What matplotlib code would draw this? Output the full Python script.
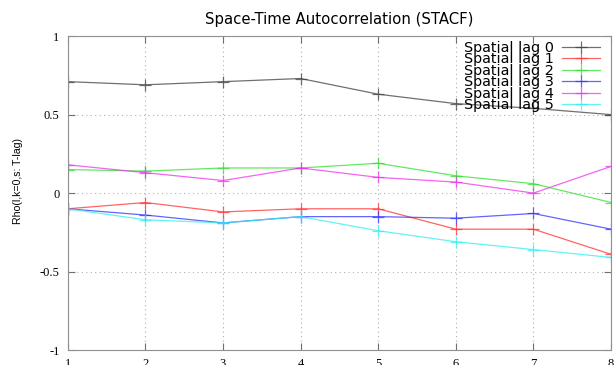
import matplotlib

matplotlib.use("Agg")
import matplotlib.pyplot as plt

time_lags = [1, 2, 3, 4, 5, 6, 7, 8]
lag0 = [0.71, 0.69, 0.71, 0.73, 0.63, 0.57, 0.54, 0.50]
lag1 = [-0.10, -0.06, -0.12, -0.10, -0.10, -0.23, -0.23, -0.39]
lag2 = [0.15, 0.14, 0.16, 0.16, 0.19, 0.11, 0.06, -0.06]
lag3 = [-0.10, -0.14, -0.19, -0.15, -0.15, -0.16, -0.13, -0.23]
lag4 = [0.18, 0.13, 0.08, 0.16, 0.10, 0.07, 0.00, 0.17]
lag5 = [-0.10, -0.17, -0.19, -0.15, -0.24, -0.31, -0.36, -0.41]

series = [lag0, lag1, lag2, lag3, lag4, lag5]
labels = ["Spatial lag %d" % i for i in range(6)]
colors = ["#404040", "#ff3030", "#30e030", "#3030ff", "#f030f0", "#30f0f0"]
y_ticks = [-1, -0.5, 0, 0.5, 1]
y_tick_labels = ["-1", "-0.5", "0", "0.5", "1"]


def main() -> None:
    fig = plt.figure(figsize=(6.16, 3.65), dpi=100)
    ax = fig.add_axes([0.110, 0.041, 0.882, 0.860])

    for vals, lab, col in zip(series, labels, colors):
        ax.plot(time_lags, vals, color=col, lw=0.9, alpha=0.75,
                marker="+", ms=8.5, mew=0.9, label=lab)

    ax.set_xlim(1, 8)
    ax.set_ylim(-1, 1)
    ax.set_xticks(time_lags)
    ax.set_yticks(y_ticks)
    ax.set_yticklabels(y_tick_labels)
    ax.grid(True, linestyle=(0, (1, 3)), color="#b0b0b0", lw=0.8)
    ax.tick_params(direction="in", top=True, right=True, length=5,
                   color="#707070", labelsize=8, pad=6)
    for lab in ax.get_xticklabels() + ax.get_yticklabels():
        lab.set_family("Liberation Serif")
        lab.set_fontsize(9)
    for sp in ax.spines.values():
        sp.set_color("#909090")

    ax.set_title("Space-Time Autocorrelation (STACF)", fontsize=10.7,
                 family="DejaVu Sans", pad=9)
    ax.set_ylabel("Rho(l,k=0,s: T-lag)", fontsize=7.6, family="Liberation Sans")
    ax.yaxis.set_label_coords(-0.083, 0.54)

    leg = ax.legend(loc="upper right", bbox_to_anchor=(0.982, 0.99),
                    frameon=False, markerfirst=False, fontsize=10.4,
                    labelspacing=-0.17, handlelength=2.6, handletextpad=0.6,
                    borderaxespad=0.0, borderpad=0.1)
    for t in leg.get_texts():
        t.set_ha("right")

    fig.savefig("out.png", dpi=100)
    plt.close(fig)


if __name__ == "__main__":
    main()
